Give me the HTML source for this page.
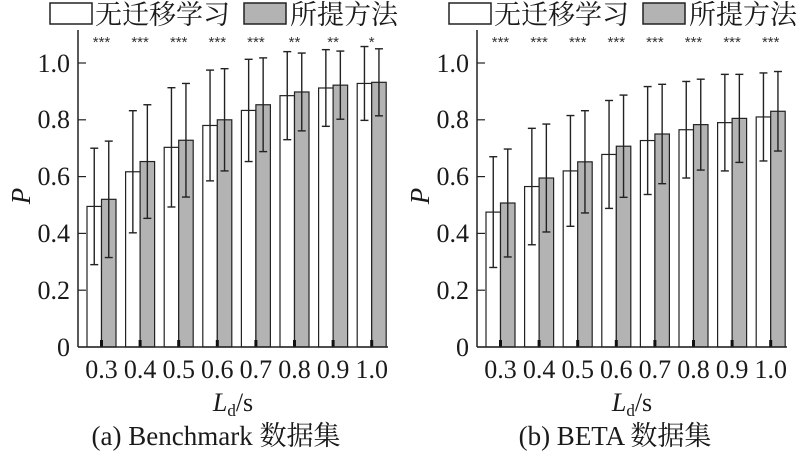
<!DOCTYPE html>
<html><head><meta charset="utf-8"><style>
html,body{margin:0;padding:0;background:#fff;}
svg{display:block;}
text{font-family:"Liberation Serif","Noto Serif CJK SC",serif;fill:#1a1a1a;}
.cj{font-family:"Liberation Serif","Noto Serif CJK SC",serif;}
.st{font-family:"Liberation Sans",sans-serif;font-size:15px;fill:#333;}
</style></head><body>
<svg id="s" width="800" height="454" viewBox="0 0 800 454" xmlns="http://www.w3.org/2000/svg">
<g id="g"></g>
<rect x="50" y="3" width="42" height="21" fill="#fff" stroke="#222" stroke-width="1.5"/>
<text x="95" y="24" font-size="27" class="cj">无迁移学习</text>
<rect x="244" y="3" width="42" height="21" fill="#b3b3b3" stroke="#222" stroke-width="1.5"/>
<text x="290" y="24" font-size="27" class="cj">所提方法</text>
<rect x="449" y="3" width="42" height="21" fill="#fff" stroke="#222" stroke-width="1.5"/>
<text x="494" y="24" font-size="27" class="cj">无迁移学习</text>
<rect x="643" y="3" width="42" height="21" fill="#b3b3b3" stroke="#222" stroke-width="1.5"/>
<text x="689" y="24" font-size="27" class="cj">所提方法</text>
<g font-size="26" text-anchor="end">
<text x="70" y="356">0</text><text x="70" y="299">0.2</text><text x="70" y="242">0.4</text>
<text x="70" y="185">0.6</text><text x="70" y="128">0.8</text><text x="70" y="72">1.0</text>
<text x="469" y="356">0</text><text x="469" y="299">0.2</text><text x="469" y="242">0.4</text>
<text x="469" y="185">0.6</text><text x="469" y="128">0.8</text><text x="469" y="72">1.0</text>
</g>
<text transform="translate(30,196) rotate(-90)" font-size="27" font-style="italic" text-anchor="middle">P</text>
<text transform="translate(429,196) rotate(-90)" font-size="27" font-style="italic" text-anchor="middle">P</text>
<g font-size="26" text-anchor="middle">
<text x="101.5" y="378">0.3</text><text x="140.1" y="378">0.4</text><text x="178.7" y="378">0.5</text><text x="217.3" y="378">0.6</text>
<text x="255.9" y="378">0.7</text><text x="294.5" y="378">0.8</text><text x="333.1" y="378">0.9</text><text x="371.7" y="378">1.0</text>
<text x="500.5" y="378">0.3</text><text x="539.1" y="378">0.4</text><text x="577.7" y="378">0.5</text><text x="616.3" y="378">0.6</text>
<text x="654.9" y="378">0.7</text><text x="693.5" y="378">0.8</text><text x="732.1" y="378">0.9</text><text x="770.7" y="378">1.0</text>
</g>
<text x="233" y="411" font-size="26" text-anchor="middle"><tspan font-style="italic">L</tspan><tspan font-size="17" dy="5">d</tspan><tspan dy="-5">/s</tspan></text>
<text x="632" y="411" font-size="26" text-anchor="middle"><tspan font-style="italic">L</tspan><tspan font-size="17" dy="5">d</tspan><tspan dy="-5">/s</tspan></text>
<text x="216" y="445" font-size="27" text-anchor="middle" class="cj">(a) Benchmark 数据集</text>
<text x="615" y="445" font-size="27" text-anchor="middle" class="cj">(b) BETA 数据集</text>
<g text-anchor="middle">
<text x="101.5" y="47" class="st">***</text><text x="140.1" y="47" class="st">***</text><text x="178.7" y="47" class="st">***</text><text x="217.3" y="47" class="st">***</text>
<text x="255.9" y="47" class="st">***</text><text x="294.5" y="47" class="st">**</text><text x="333.1" y="47" class="st">**</text><text x="371.7" y="47" class="st">*</text>
<text x="500.5" y="47" class="st">***</text><text x="539.1" y="47" class="st">***</text><text x="577.7" y="47" class="st">***</text><text x="616.3" y="47" class="st">***</text>
<text x="654.9" y="47" class="st">***</text><text x="693.5" y="47" class="st">***</text><text x="732.1" y="47" class="st">***</text><text x="770.7" y="47" class="st">***</text>
</g>
</svg>
<script>
var NS="http://www.w3.org/2000/svg",g=document.getElementById("g");
function el(t,a){var e=document.createElementNS(NS,t);for(var k in a)e.setAttribute(k,a[k]);g.appendChild(e);return e;}
function Y(v){return 347-284*v;}
var D=[
 {ox:0,w:[.495,.617,.703,.78,.833,.885,.912,.928],we:[.205,.215,.21,.195,.18,.155,.135,.13],
  g:[.52,.653,.728,.80,.853,.898,.922,.932],ge:[.205,.2,.2,.18,.165,.137,.12,.118]},
 {ox:399,w:[.475,.565,.62,.678,.727,.765,.79,.81],we:[.195,.205,.195,.19,.19,.17,.17,.155],
  g:[.507,.595,.652,.707,.75,.783,.805,.83],ge:[.19,.19,.18,.18,.175,.16,.155,.14]}];
D.forEach(function(d){
 var ax=78+d.ox;
 for(var i=0;i<8;i++){
  var x0=87+d.ox+i*38.6,bw=14.5;
  [[x0,d.w[i],d.we[i],"#fff"],[x0+bw,d.g[i],d.ge[i],"#b3b3b3"]].forEach(function(b){
   el("rect",{x:b[0],y:Y(b[1]),width:bw,height:347-Y(b[1]),fill:b[3],stroke:"#222","stroke-width":1.2});
   var cx=b[0]+bw/2,t=Y(b[1]+b[2]),bo=Y(b[1]-b[2]);
   el("line",{x1:cx,y1:t,x2:cx,y2:bo,stroke:"#222","stroke-width":1.4});
   el("line",{x1:cx-4,y1:t,x2:cx+4,y2:t,stroke:"#222","stroke-width":1.4});
   el("line",{x1:cx-4,y1:bo,x2:cx+4,y2:bo,stroke:"#222","stroke-width":1.4});
  });
  el("rect",{x:x0+bw-1.5,y:340,width:3,height:7,fill:"#111"});
 }
 el("line",{x1:ax,y1:30,x2:ax,y2:347,stroke:"#222","stroke-width":1.5});
 el("line",{x1:ax,y1:347,x2:ax+310,y2:347,stroke:"#222","stroke-width":1.5});
 for(var k=0;k<=5;k++){var y=Y(k*0.2);el("line",{x1:ax,y1:y,x2:ax+8,y2:y,stroke:"#222","stroke-width":1.2});}
});
</script>
</body></html>
